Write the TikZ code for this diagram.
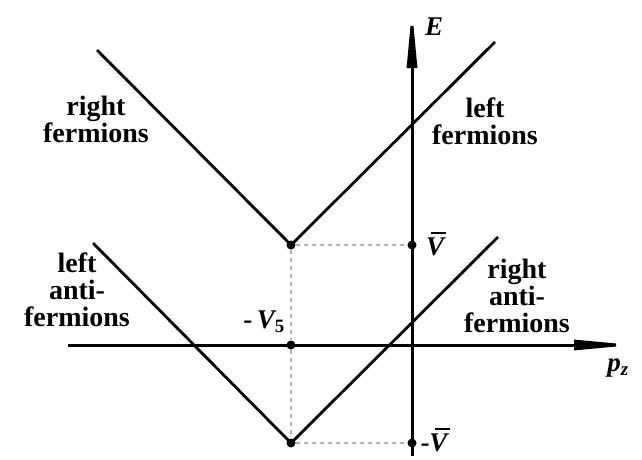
\documentclass[tikz,border=0pt]{standalone}
\usepackage{fontspec}
\setmainfont{Liberation Serif}
\usetikzlibrary{arrows.meta}
\newcommand\myBarV{\leavevmode\rlap{\hspace{0.2em}\raisebox{0.8em}{\rule{0.55em}{1.8pt}}}V}
\tikzset{
  axis/.style={line width=3pt, -{Triangle[length=60pt,width=10pt]}},
  branch/.style={line width=2.8pt},
  guide/.style={line width=1.5pt, gray!60, dash pattern=on 4pt off 4pt},
  dot/.style={circle, fill=black, inner sep=0pt, minimum size=9pt},
  lbl/.style={font=\fontsize{28}{27}\selectfont\bfseries, align=center, inner sep=0pt},
  sym/.style={font=\fontsize{27}{27}\selectfont\bfseries\itshape, inner sep=0pt}
}
\begin{document}
\begin{tikzpicture}[x=1pt,y=-1pt]
\useasboundingbox (0,0) rectangle (642,459);
% coordinates
\coordinate (xs) at (68,345);
\coordinate (xe) at (634,345);
\coordinate (ys) at (412,456);
\coordinate (ye) at (412,8);
\coordinate (ul) at (97,50);
\coordinate (ur) at (495,42);
\coordinate (ll) at (93,243);
\coordinate (lr) at (498,237);
% dots
\node[dot] (top) at (291,245) {};
\node[dot] (vb) at (412,245) {};
\node[dot] (mid) at (291,345) {};
\node[dot] (bot) at (291,443) {};
\node[dot] (mvb) at (412,443) {};
% guides
\draw[guide] (top) -- (vb);
\draw[guide] (top) -- (mid);
\draw[guide] (mid) -- (bot);
\draw[guide] (bot) -- (mvb);
% axes
\draw[axis] (xs) -- (xe);
\draw[axis] (ys) -- (ye);
% branches
\draw[branch] (ul) -- (top.center) -- (ur);
\draw[branch] (ll) -- (bot.center) -- (lr);
% labels
\node[lbl] (rf) at (96,119) {right\\fermions};
\node[lbl] (lf) at (485,121) {left\\fermions};
\node[lbl] (la) at (77,290) {left\\anti-\\fermions};
\node[lbl] (ra) at (517,296) {right\\anti-\\fermions};
\node[sym] (E) at (434,27) {E};
\node[sym] (V) at (435,244) {\myBarV};
\node[sym] (V5) at (264,322) {\upshape -\,\itshape V\textsubscript{\upshape 5}};
\node[sym] (mV) at (434,440) {\upshape -\itshape\myBarV};
\node[sym] (pz) at (618,368) {p\textsubscript{z}};
\end{tikzpicture}
\end{document}
